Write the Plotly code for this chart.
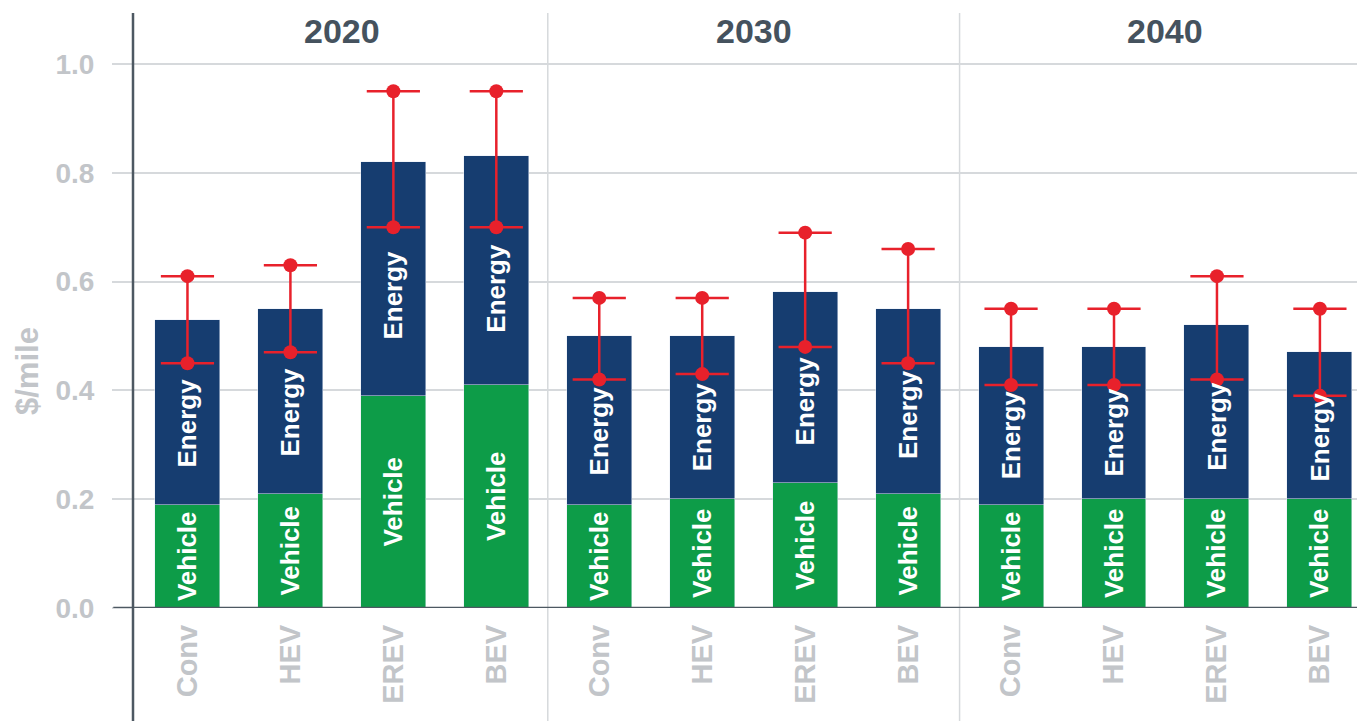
import plotly.graph_objects as go

years = ["2020", "2030", "2040"]
vehicle_types = ["Conv", "HEV", "EREV", "BEV"]
categories = [f"{y} {v}" for y in years for v in vehicle_types]
tick_labels = vehicle_types * 3

vehicle_cost = [0.19, 0.21, 0.39, 0.41,
                0.19, 0.20, 0.23, 0.21,
                0.19, 0.20, 0.20, 0.20]
total_cost = [0.53, 0.55, 0.82, 0.83,
              0.50, 0.50, 0.58, 0.55,
              0.48, 0.48, 0.52, 0.47]
range_low = [0.45, 0.47, 0.70, 0.70,
             0.42, 0.43, 0.48, 0.45,
             0.41, 0.41, 0.42, 0.39]
range_high = [0.61, 0.63, 0.95, 0.95,
              0.57, 0.57, 0.69, 0.66,
              0.55, 0.55, 0.61, 0.55]
energy_cost = [round(t - v, 3) for t, v in zip(total_cost, vehicle_cost)]

xs = list(range(len(categories)))

NAVY = "#163d70"
GREEN = "#0d9c48"
RED = "#e8212b"
GRAY = "#c2c5c9"
DARK = "#4d5862"
GRID = "#d6d9dc"
FONT = "Liberation Sans, Arial, sans-serif"
BAR_FONT = dict(color="white", size=26, family=FONT, weight="bold")

fig = go.Figure()

fig.add_bar(x=xs, y=vehicle_cost, marker_color=GREEN, width=0.631,
            text=["Vehicle"] * len(xs), textposition="inside", textangle=-90,
            insidetextanchor="middle", constraintext="none",
            insidetextfont=BAR_FONT,
            hoverinfo="skip", showlegend=False)
fig.add_bar(x=xs, y=energy_cost, marker_color=NAVY, width=0.631,
            hoverinfo="skip", showlegend=False)

# error ranges
lx, ly = [], []
for x, lo, hi in zip(xs, range_low, range_high):
    lx += [x, x, None]
    ly += [lo, hi, None]
fig.add_scatter(x=lx, y=ly, mode="lines", line=dict(color=RED, width=2.5),
                hoverinfo="skip", showlegend=False)
px = xs + xs
py = range_low + range_high
fig.add_scatter(x=px, y=py, mode="markers",
                marker=dict(symbol="line-ew", size=38, color=RED,
                            line=dict(color=RED, width=2.5)),
                hoverinfo="skip", showlegend=False)
fig.add_scatter(x=px, y=py, mode="markers",
                marker=dict(symbol="circle", size=14, color=RED),
                hoverinfo="skip", showlegend=False)

# page has an 8px body margin; figure is sized to fill the rest
fig_w, fig_h = 1357, 713
left = 125
plot_w = fig_w - left
plot_h = 600  # figure px from top to the zero line
px_per_unit = 544
y_top = (plot_h - 5) / plot_h
y_bot = -(fig_h - plot_h) / plot_h

shapes = [
    dict(type="line", xref="x", yref="paper", x0=3.5, x1=3.5, y0=y_bot, y1=y_top,
         line=dict(color=GRID, width=1.5), layer="below"),
    dict(type="line", xref="x", yref="paper", x0=7.5, x1=7.5, y0=y_bot, y1=y_top,
         line=dict(color=GRID, width=1.5), layer="below"),
    dict(type="line", xref="paper", yref="paper", x0=0, x1=0, y0=y_bot, y1=y_top,
         line=dict(color=DARK, width=2.5)),
    dict(type="line", xref="paper", yref="y", x0=-0.016, x1=1, y0=0, y1=0,
         line=dict(color=DARK, width=2.5)),
]

annotations = [
    dict(x=1.5 + 4 * i, y=(plot_h - 23) / plot_h, xref="x", yref="paper",
         text=yr, showarrow=False, yanchor="middle",
         font=dict(size=34, color="#45525e", family=FONT, weight="bold"))
    for i, yr in enumerate(years)
]
# "Energy" labels sit in the navy segment, nudged below the lower range marker
for x, v, t, lo in zip(xs, vehicle_cost, total_cost, range_low):
    annotations.append(dict(x=x, y=v / 2 + (t + lo) / 4, xref="x", yref="y",
                            text="Energy", showarrow=False, textangle=-90,
                            xanchor="center", yanchor="middle", font=BAR_FONT))
annotations.append(
    dict(x=(19 - left) / plot_w, y=(plot_h - 363) / plot_h, xref="paper", yref="paper",
         text="$/mile", showarrow=False, textangle=-90,
         xanchor="center", yanchor="middle",
         font=dict(size=31, color=GRAY, family=FONT, weight="bold"))
)

fig.update_layout(
    width=fig_w, height=fig_h,
    margin=dict(l=left, r=0, t=0, b=fig_h - plot_h),
    paper_bgcolor="white", plot_bgcolor="white",
    barmode="stack", bargap=0,
    shapes=shapes, annotations=annotations,
    font=dict(family=FONT),
    xaxis=dict(range=[-0.529, 11.438], tickvals=xs, ticktext=tick_labels,
               tickangle=-90, showgrid=False, zeroline=False, showline=False,
               ticks="", ticklabelstandoff=10, automargin=False,
               tickfont=dict(size=29, color=GRAY, family=FONT, weight="bold")),
    yaxis=dict(range=[0, plot_h / px_per_unit], tickvals=[0, 0.2, 0.4, 0.6, 0.8, 1.0],
               ticktext=["0.0", "0.2", "0.4", "0.6", "0.8", "1.0"],
               showgrid=True, gridcolor=GRID, gridwidth=1.5, zeroline=False,
               showline=False, ticks="outside", ticklen=20, tickcolor=GRID,
               tickwidth=1.5, ticklabelstandoff=12, automargin=False,
               tickfont=dict(size=28, color=GRAY, family=FONT, weight="bold")),
)

fig.write_html("out.html")
